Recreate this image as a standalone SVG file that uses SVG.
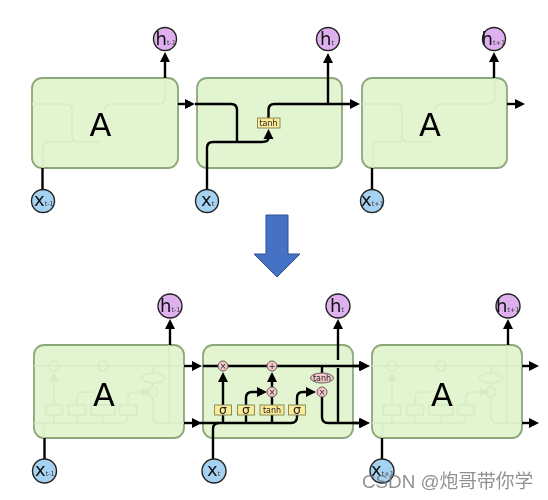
<svg xmlns="http://www.w3.org/2000/svg" width="548" height="500" viewBox="0 0 548 500">
<style>
.box{fill:#e2f5d0;stroke:#8ca878;stroke-width:1.8}
.ghost{fill:none;stroke:#d6eac4;stroke-width:1.5}
.ghostf{fill:#d6eac4;stroke:none}
.w{fill:none;stroke:#000;stroke-width:2.4}
.a{marker-end:url(#head)}
.h{fill:#dfb0ee;stroke:#222;stroke-width:1.4}
.x{fill:#a6d2f2;stroke:#222;stroke-width:1.4}
.lab{font-family:"DejaVu Sans",sans-serif;font-size:18px;fill:#111}
.sub{font-size:6.500px;fill:#333}
.big{font-family:"DejaVu Sans",sans-serif;font-size:32px;fill:#000;text-anchor:middle}
.y{fill:#fbeb99;stroke:#8a8a5a;stroke-width:1}
.p{fill:#f5c8cc;stroke:#6a5a5a;stroke-width:1}
.t{font-family:"DejaVu Sans",sans-serif;fill:#222;text-anchor:middle}
.s{font-size:8px}
.o{font-size:12.500px}
</style>
<defs>
<filter id="soft" filterUnits="userSpaceOnUse" x="0" y="0" width="548" height="500"><feGaussianBlur stdDeviation="0.35"/></filter>
<marker id="head" markerUnits="userSpaceOnUse" markerWidth="11" markerHeight="12" refX="1" refY="6" orient="auto"><path d="M0,1 L10,6 L0,11Z" fill="#000"/></marker>
<g id="gtop">
<path class="ghost" d="M32,104H66Q72,104 72,110V136Q72,142 78,142H100M43,168V148Q43,142 49,142H72M105,110Q105,104 111,104H159Q165,104 165,98V78"/>
</g>
<g id="gbot">
<path class="ghost" d="M203,366H353M203,423H291Q297,423 297,417V415M297,405V398Q297,392 303,392H316M213,438V429Q213,423 219,423M223,423V415M246,423V415M272,423V415M223,405V376M246,405V398Q246,392 252,392H262M322,366V373M322,383V386M322,398V417Q322,423 328,423H353M338,423V345"/>
<path class="ghostf" d="M223,372L227.500,381H218.500ZM320,392L311,387.500V396.500Z"/>
<rect class="ghost" x="214.500" y="405" width="17" height="10"/><rect class="ghost" x="237.500" y="405" width="17" height="10"/><rect class="ghost" x="260" y="405" width="24" height="10"/><rect class="ghost" x="288.500" y="405" width="17" height="10"/>
<circle class="ghost" cx="223" cy="366" r="5"/><circle class="ghost" cx="272" cy="366" r="5"/><circle class="ghost" cx="322" cy="392" r="5"/><ellipse class="ghost" cx="322" cy="378" rx="11.500" ry="5"/>
</g>
</defs>
<rect width="548" height="500" fill="#fff"/>
<g id="diagram" filter="url(#soft)">
<g id="cell-top-1"><rect class="box" x="32" y="78" width="146" height="90" rx="10"/><use href="#gtop"/><text class="big" x="100.500" y="136">A</text></g>
<g id="cell-top-2"><rect class="box" x="197" y="78" width="145" height="90" rx="10"/></g>
<g id="cell-top-3"><rect class="box" x="362" y="78" width="145" height="90" rx="10"/><use href="#gtop" x="330"/><text class="big" x="430" y="136">A</text></g>
<g id="cell-bottom-1"><rect class="box" x="34" y="345" width="150" height="93" rx="10"/><use href="#gbot" x="-169"/><text class="big" x="104" y="406">A</text></g>
<g id="cell-bottom-2"><rect class="box" x="203" y="345" width="150" height="93" rx="10"/></g>
<g id="cell-bottom-3"><rect class="box" x="372" y="345" width="150" height="93" rx="10"/><use href="#gbot" x="169"/><text class="big" x="442" y="406">A</text></g>
<g id="connectors">
<path class="w a" d="M165,78V61"/>
<path class="w" d="M42.500,190V168"/>
<path class="w a" d="M178,104H186"/>
<path class="w" d="M195,104H231Q237,104 237,110V142"/>
<path class="w a" d="M207,190V148Q207,142 213,142H262Q268.500,142 268.500,138"/>
<path class="w a" d="M268.500,118V110Q268.500,104 274.500,104H351"/>
<path class="w a" d="M328,104V62"/>
<path class="w a" d="M494,78V61"/>
<path class="w" d="M372,190V168"/>
<path class="w a" d="M507,104H516"/>
<path class="w a" d="M170,345V328"/>
<path class="w" d="M44.500,459V438"/>
<path class="w a" d="M184,366H193"/>
<path class="w a" d="M184,423H193"/>
<path class="w a" d="M203,366H360"/>
<path class="w" d="M200,423H291Q297,423 297,417V415"/>
<path class="w" d="M213,459V429Q213,423 219,423"/>
<path class="w" d="M223,423V415M246,423V415M272,423V415M272,405V397M322,366V373"/>
<path class="w a" d="M223,405V381"/>
<path class="w a" d="M246,405V398Q246,392 252,392H258"/>
<path class="w a" d="M272,387V381"/>
<path class="w a" d="M297,405V398Q297,392 303,392H307"/>
<path class="w a" d="M322,397V417Q322,423 328,423H360"/>
<path class="w" d="M338,423V368"/>
<path class="w a" d="M338,360V328"/>
<path class="w a" d="M353,366H361"/>
<path class="w a" d="M353,423H361"/>
<path class="w a" d="M508,345V328"/>
<path class="w" d="M382,459V438"/>
<path class="w a" d="M522,366H530"/>
<path class="w a" d="M522,423H530"/>
</g>
<g id="tanh-top"><rect class="y" x="257.500" y="118" width="22.500" height="10"/><text class="t s" x="268.500" y="126">tanh</text></g>
<g id="sigma-1"><rect class="y" x="214.500" y="405" width="17" height="10"/><text class="t o" x="223" y="414">σ</text></g>
<g id="sigma-2"><rect class="y" x="237.500" y="405" width="17" height="10"/><text class="t o" x="246" y="414">σ</text></g>
<g id="tanh-bottom"><rect class="y" x="260" y="405" width="24" height="10"/><text class="t s" x="272" y="413">tanh</text></g>
<g id="sigma-3"><rect class="y" x="288.500" y="405" width="17" height="10"/><text class="t o" x="297" y="414">σ</text></g>
<g id="op-times-1"><circle class="p" cx="223" cy="366" r="5"/><text class="t s" x="223" y="369">×</text></g>
<g id="op-plus"><circle class="p" cx="272" cy="366" r="5"/><text class="t s" x="272" y="369">+</text></g>
<g id="op-times-2"><circle class="p" cx="272" cy="392" r="5"/><text class="t s" x="272" y="395">×</text></g>
<g id="op-times-3"><circle class="p" cx="322" cy="392" r="5"/><text class="t s" x="322" y="395">×</text></g>
<g id="op-tanh"><ellipse class="p" cx="322" cy="378" rx="11.500" ry="5"/><text class="t s" x="322" y="381">tanh</text></g>
<g id="h-top-1"><circle class="h" cx="165" cy="39" r="11.500"/><text class="lab" x="155.500" y="45">h<tspan class="sub">t-1</tspan></text></g>
<g id="h-top-2"><circle class="h" cx="328" cy="39" r="11.500"/><text class="lab" x="320" y="45">h<tspan class="sub">t</tspan></text></g>
<g id="h-top-3"><circle class="h" cx="494" cy="39" r="11.500"/><text class="lab" x="481.500" y="45">h<tspan class="sub">t+1</tspan></text></g>
<g id="x-top-1"><circle class="x" cx="43" cy="201" r="11.500"/><text class="lab" x="34" y="206">x<tspan class="sub">t-1</tspan></text></g>
<g id="x-top-2"><circle class="x" cx="207" cy="201" r="11.500"/><text class="lab" x="201" y="206">x<tspan class="sub">t</tspan></text></g>
<g id="x-top-3"><circle class="x" cx="372" cy="201" r="11.500"/><text class="lab" x="361" y="206">x<tspan class="sub">t+1</tspan></text></g>
<g id="arrow-down"><path d="M266,215H288V254H300L277,277L254,254H266Z" fill="#4472c4" stroke="#2f528f" stroke-width="1"/></g>
<g id="h-bottom-1"><circle class="h" cx="170" cy="306" r="12"/><text class="lab" x="160" y="312">h<tspan class="sub">t-1</tspan></text></g>
<g id="h-bottom-2"><circle class="h" cx="338" cy="306" r="12"/><text class="lab" x="330" y="312">h<tspan class="sub">t</tspan></text></g>
<g id="h-bottom-3"><circle class="h" cx="508" cy="306" r="12"/><text class="lab" x="496" y="312">h<tspan class="sub">t+1</tspan></text></g>
<g id="x-bottom-1"><circle class="x" cx="44.500" cy="471" r="12"/><text class="lab" x="35" y="476">x<tspan class="sub">t-1</tspan></text></g>
<g id="x-bottom-2"><circle class="x" cx="214" cy="471" r="12"/><text class="lab" x="207" y="476">x<tspan class="sub">t</tspan></text></g>
<g id="x-bottom-3"><circle class="x" cx="382" cy="471" r="12"/><text class="lab" x="371" y="476">x<tspan class="sub">t+1</tspan></text></g>
<text id="watermark" x="362" y="488" font-family="'Liberation Sans','Noto Sans CJK SC',sans-serif" font-size="18.800" fill="#777" fill-opacity="0.8">CSDN @炮哥带你学</text>
</g>
</svg>
